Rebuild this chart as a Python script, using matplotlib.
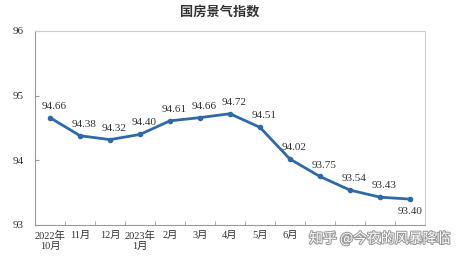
import matplotlib.pyplot as plt
import matplotlib.patheffects as pe

plt.rcParams['font.family'] = ['Liberation Serif', 'Noto Sans CJK SC', 'DejaVu Sans']

months = ['2022年\n10月', '11月', '12月', '2023年\n1月', '2月', '3月', '4月',
          '5月', '6月', '7月', '8月', '9月', '10月']
index_values = [94.66, 94.38, 94.32, 94.40, 94.61, 94.66, 94.72,
                94.51, 94.02, 93.75, 93.54, 93.43, 93.40]
y_ticks = [93, 94, 95, 96]
n_visible = 9  # the last month labels are covered by the watermark

fig = plt.figure(figsize=(4.63, 2.58), dpi=100)
ax = fig.add_axes([0.0756, 0.128, 0.842, 0.752])

x = list(range(len(index_values)))
ax.plot(x, index_values, color='#3069a8', linewidth=2, marker='o', markersize=3)

# data labels
for i, v in enumerate(index_values):
    if i == len(index_values) - 1:
        ax.annotate(f'{v:.2f}', (i, v), xytext=(0, -6), textcoords='offset points',
                    ha='center', va='top', fontsize=8, color='#333333')
    else:
        ax.annotate(f'{v:.2f}', (i, v), xytext=(3, 5), textcoords='offset points',
                    ha='center', va='bottom', fontsize=8, color='#333333')

ax.set_xlim(-0.5, len(index_values) - 0.5)
ax.set_ylim(93, 96)
ax.set_yticks(y_ticks)
ax.set_xticks(x)
ax.set_xticklabels([m if i < n_visible else '' for i, m in enumerate(months)],
                   fontsize=7.5, color='#333333')
ax.tick_params(axis='x', length=0, pad=4)
ax.set_xticks([i + 0.5 for i in x[:-1]], minor=True)
ax.tick_params(axis='x', which='minor', direction='in', length=3, color='#999999')
ax.tick_params(axis='y', direction='in', length=3, color='#999999', labelsize=8,
               labelcolor='#333333', pad=8)
ax.yaxis.set_tick_params(which='minor', left=False)

for s in ax.spines.values():
    s.set_color('#cccccc')
    s.set_linewidth(0.8)
ax.spines['left'].set_color('#999999')
ax.spines['bottom'].set_color('#999999')

fig.text(0.475, 0.955, '国房景气指数', ha='center', va='center', fontsize=9.5,
         fontweight='bold', color='#333333', family=['Noto Sans CJK SC'])

# watermark
fig.text(0.82, 0.075, '知乎 @今夜的风暴降临', ha='center', va='center', fontsize=10,
         color='white', family=['Noto Sans CJK SC'],
         path_effects=[pe.withStroke(linewidth=1.5, foreground='#999999')])

fig.savefig('out.png', dpi=100)
